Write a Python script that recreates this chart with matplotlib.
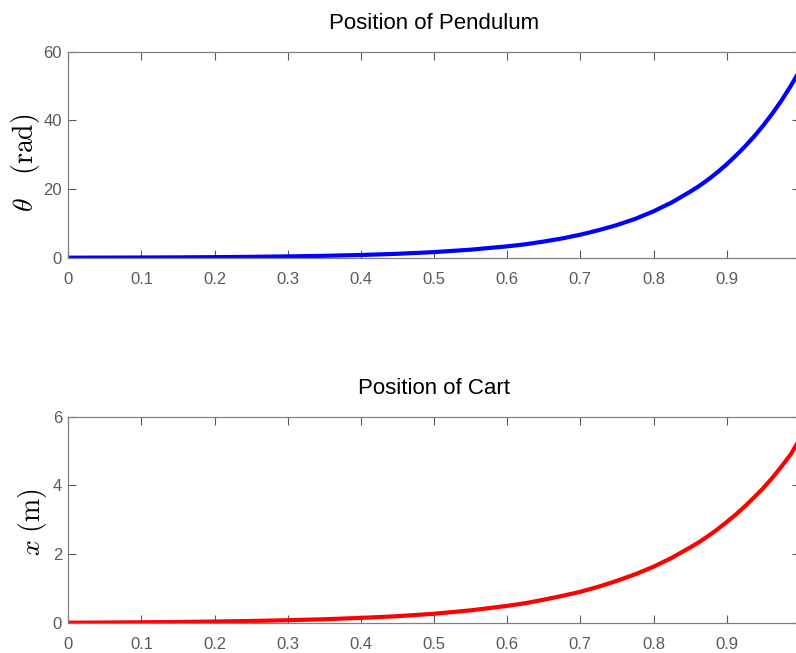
import numpy as np
import matplotlib
matplotlib.use('Agg')
import matplotlib.pyplot as plt

# time samples (s) and values
t = [0, 0.05, 0.1, 0.15, 0.2, 0.25, 0.3, 0.35, 0.4, 0.45, 0.5, 0.55, 0.6, 0.625, 0.65, 0.675,
     0.7, 0.725, 0.75, 0.775, 0.8, 0.825, 0.85, 0.8625, 0.875, 0.8875, 0.9, 0.9125,
     0.925, 0.9375, 0.95, 0.9625, 0.975, 0.9875, 1.0]
theta = [0, 0.02, 0.05, 0.09, 0.15, 0.24, 0.37, 0.54, 0.78, 1.13, 1.62, 2.33, 3.3, 3.9, 4.7, 5.6,
         6.7, 8.0, 9.5, 11.3, 13.5, 16.1, 19.2, 20.9, 22.8, 24.9, 27.2, 29.7,
         32.4, 35.3, 38.5, 42.0, 45.8, 50.0, 54.5]
cart = [0, 0.005, 0.013, 0.022, 0.034, 0.05, 0.072, 0.10, 0.14, 0.19, 0.26, 0.36, 0.49, 0.57, 0.67, 0.78,
        0.90, 1.05, 1.22, 1.41, 1.63, 1.89, 2.19, 2.35, 2.53, 2.72, 2.93, 3.15,
        3.39, 3.65, 3.92, 4.22, 4.55, 4.90, 5.35]

xticks = [0, 0.1, 0.2, 0.3, 0.4, 0.5, 0.6, 0.7, 0.8, 0.9]
xticklabels = ['0', '0.1', '0.2', '0.3', '0.4', '0.5', '0.6', '0.7', '0.8', '0.9']

plt.rcParams['font.family'] = ['Liberation Sans', 'DejaVu Sans']
plt.rcParams['mathtext.fontset'] = 'cm'

fig = plt.figure(figsize=(7.96, 6.53), dpi=100)
ax1 = fig.add_axes([0.0858, 0.6054, 0.919, 0.3154])
ax2 = fig.add_axes([0.0858, 0.0464, 0.919, 0.3155])

gray = '#5a5a5a'

def style(ax, yt):
    ax.set_xlim(0, 1)
    ax.set_xticks(xticks)
    ax.set_xticklabels(xticklabels)
    ax.set_yticks(yt)
    ax.set_ylim(yt[0], yt[-1])
    ax.tick_params(direction='in', top=True, right=True, length=5.5, width=0.8,
                   colors=gray, labelsize=12)
    ax.tick_params(axis='x', pad=10.5)
    ax.tick_params(axis='y', pad=4.5)
    for s in ax.spines.values():
        s.set_color('#808080')
        s.set_linewidth(0.9)

ax1.plot(t, theta, color='#0000ff', lw=3)
style(ax1, [0, 20, 40, 60])
ax1.set_title('Position of Pendulum', fontsize=16, pad=16)
ax1.set_ylabel(r'$\theta\quad\mathrm{(rad)}$', fontsize=20)
ax1.yaxis.set_label_coords(-0.036, 0.46)

ax2.plot(t, cart, color='#ff0000', lw=3)
style(ax2, [0, 2, 4, 6])
ax2.set_title('Position of Cart', fontsize=16, pad=16)
ax2.set_ylabel(r'$x\ \mathrm{(m)}$', fontsize=20)
ax2.yaxis.set_label_coords(-0.026, 0.49)

fig.savefig('out.png', dpi=100)
